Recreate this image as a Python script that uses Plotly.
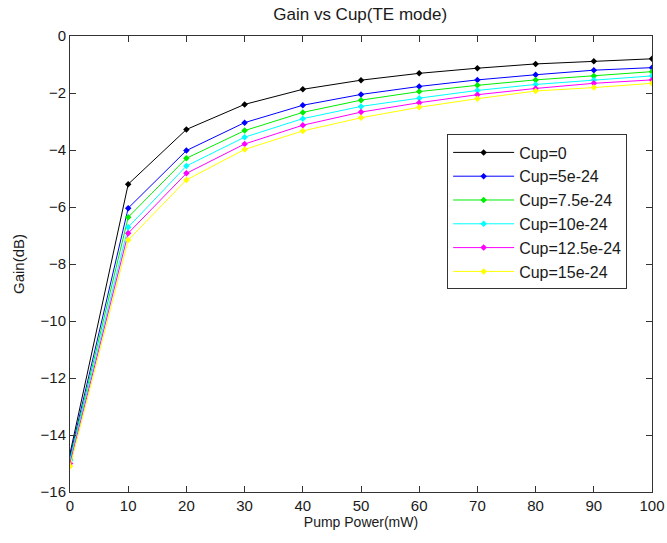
import plotly.graph_objects as go

pump_power = [0, 10, 20, 30, 40, 50, 60, 70, 80, 90, 100]

gain_cup0 = [-14.65, -5.20, -3.28, -2.40, -1.87, -1.55, -1.31, -1.13, -0.98, -0.89, -0.80]
gain_cup5 = [-14.75, -6.04, -4.02, -3.04, -2.43, -2.05, -1.77, -1.54, -1.36, -1.20, -1.11]
gain_cup75 = [-14.85, -6.36, -4.29, -3.32, -2.68, -2.25, -1.95, -1.73, -1.54, -1.40, -1.25]
gain_cup10 = [-14.90, -6.71, -4.56, -3.55, -2.90, -2.47, -2.18, -1.91, -1.70, -1.54, -1.40]
gain_cup125 = [-15.00, -6.92, -4.82, -3.79, -3.13, -2.67, -2.34, -2.06, -1.84, -1.66, -1.54]
gain_cup15 = [-15.10, -7.16, -5.05, -3.98, -3.33, -2.87, -2.50, -2.20, -1.93, -1.81, -1.66]

series_names = ["Cup=0", "Cup=5e-24", "Cup=7.5e-24", "Cup=10e-24", "Cup=12.5e-24", "Cup=15e-24"]
series_values = [gain_cup0, gain_cup5, gain_cup75, gain_cup10, gain_cup125, gain_cup15]
series_colors = ["#000000", "#0000ff", "#00ee00", "#00ffff", "#ff00ff", "#ffff00"]

x_ticks = [0, 10, 20, 30, 40, 50, 60, 70, 80, 90, 100]
y_ticks = [0, -2, -4, -6, -8, -10, -12, -14, -16]

font_family = "Liberation Sans, Arial, sans-serif"
text_color = "#1a1a1a"

fig = go.Figure()
for name, vals, col in zip(series_names, series_values, series_colors):
    fig.add_trace(go.Scatter(
        x=pump_power, y=vals, name=name, mode="lines+markers",
        line=dict(color=col, width=1),
        marker=dict(symbol="diamond", size=5, color=col),
    ))

axis_common = dict(
    showline=True, linecolor="#333333", linewidth=1, mirror="ticks",
    ticks="inside", ticklen=6, tickcolor="#333333", tickwidth=1,
    showgrid=False, zeroline=False, automargin=False,
    tickfont=dict(family=font_family, size=15, color=text_color),
)

fig.update_layout(
    width=667, height=543,
    margin=dict(l=70, r=15, t=36, b=51),
    paper_bgcolor="white", plot_bgcolor="white",
    title=dict(text="Gain vs Cup(TE mode)", x=0.54, xanchor="center", y=0.975, yanchor="middle",
               font=dict(family=font_family, size=17, color=text_color)),
    xaxis=dict(range=[0, 100], tickvals=x_ticks, **axis_common,
               title=dict(text="Pump Power(mW)", standoff=2,
                          font=dict(family=font_family, size=14, color=text_color))),
    yaxis=dict(range=[-16, 0], tickvals=y_ticks, **axis_common,
               title=dict(text="Gain(dB)", standoff=12,
                          font=dict(family=font_family, size=15, color=text_color))),
    showlegend=True,
    legend=dict(x=0.648, y=0.784, xanchor="left", yanchor="top",
                bgcolor="white", bordercolor="#333333", borderwidth=1,
                font=dict(family=font_family, size=16, color=text_color),
                itemwidth=61),
)

fig.write_html("out.html")
